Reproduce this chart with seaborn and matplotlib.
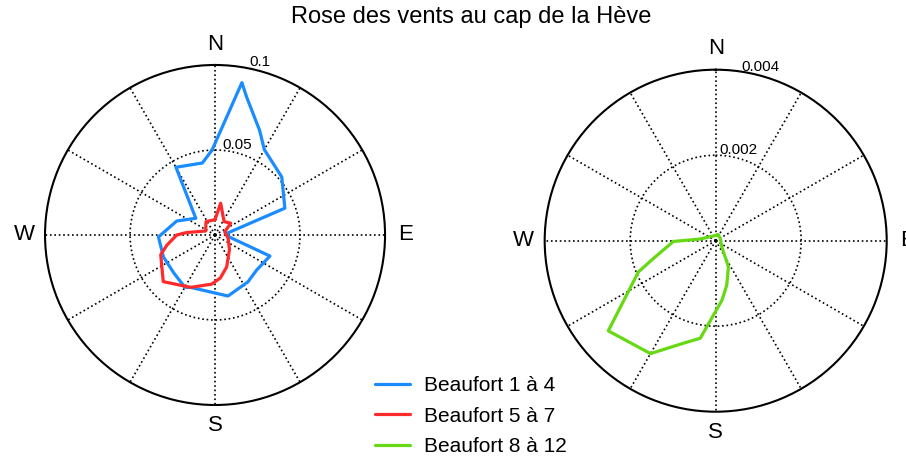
import numpy as np
import pandas as pd
import matplotlib
matplotlib.use("Agg")
from matplotlib import pyplot as plt
import seaborn as sns

sns.set_style("white", {"text.color": "black", "xtick.color": "black", "ytick.color": "black"})
plt.rcParams['font.family'] = ['Liberation Sans', 'DejaVu Sans']

# wind rose vertices (direction in degrees from north, clockwise ; frequency)
dir_b14 = [358, 10, 13, 23, 30, 49, 69, 82, 97, 111, 130, 145, 168, 205, 210, 227, 247, 268, 290, 311, 330, 350]
val_b14 = [0.050, 0.091, 0.083, 0.067, 0.058, 0.052, 0.044, 0.007, 0.008, 0.0346, 0.032, 0.0337,
           0.0367, 0.034, 0.0355, 0.033, 0.033, 0.0333, 0.024, 0.015, 0.046, 0.043]

dir_b57 = [0, 10, 34, 53, 72, 105, 135, 160, 173, 184, 205, 228, 250, 258, 270, 275, 293, 326]
val_b57 = [0.009, 0.019, 0.0095, 0.0115, 0.006, 0.008, 0.012, 0.020, 0.0255, 0.029, 0.034,
           0.041, 0.034, 0.029, 0.0225, 0.0167, 0.006, 0.0095]

dir_b812 = [20, 60, 120, 135, 154, 166, 174, 189, 198, 210, 230, 248, 254, 269, 276, 350]
val_b812 = [0.00015, 0.00012, 0.00015, 0.0002, 0.00068, 0.00107, 0.0014, 0.00231, 0.00253,
            0.00305, 0.00328, 0.00195, 0.00152, 0.00099, 0.00037, 0.00012]

labels = ["Beaufort 1 à 4", "Beaufort 5 à 7", "Beaufort 8 à 12"]
colors = ["#1a8cff", "#ff2a2a", "#66d914"]

def rose_df(dirs, vals):
    # close the polygon
    d = np.deg2rad(np.append(dirs, dirs[0]))
    v = np.append(vals, vals[0])
    return pd.DataFrame({"theta": d, "freq": v})

def setup(ax, rmax, rlab):
    ax.set_theta_zero_location('N')
    ax.set_theta_direction(-1)
    ax.set_ylim(0, rmax)
    ax.set_yticks([rmax / 2])
    ax.set_yticklabels([])
    ax.set_thetagrids(np.arange(0, 360, 30),
                      ['N', '', '', 'E', '', '', 'S', '', '', 'W', '', ''])
    ax.tick_params(axis='x', pad=4.5, labelsize=16, labelcolor='black')
    ax.grid(True, linestyle=':', color='k', linewidth=1.2)
    ax.spines['polar'].set_linewidth(1.5)
    ax.spines['polar'].set_color('k')
    ax.set_xlabel("")
    ax.set_ylabel("")
    for r, txt in zip([rmax / 2, rmax], rlab):
        ax.text(np.deg2rad(15), r * 1.01, txt, ha='center', va='bottom', fontsize=11, color='black')

fig = plt.figure(figsize=(9.06, 4.57), dpi=100)
ax1 = fig.add_axes([0.0497, 0.1138, 0.3753, 0.744], projection='polar')
ax2 = fig.add_axes([0.6012, 0.0991, 0.3775, 0.7484], projection='polar')

kw = dict(x="theta", y="freq", sort=False, estimator=None, linewidth=2.3, legend=False)
sns.lineplot(data=rose_df(dir_b14, val_b14), color=colors[0], ax=ax1, label=labels[0], **kw)
sns.lineplot(data=rose_df(dir_b57, val_b57), color=colors[1], ax=ax1, label=labels[1], **kw)
sns.lineplot(data=rose_df(dir_b812, val_b812), color=colors[2], ax=ax2, label=labels[2], **kw)

setup(ax1, 0.1, ["0.05", "0.1"])
setup(ax2, 0.004, ["0.002", "0.004"])

handles = ax1.get_lines()[:2] + ax2.get_lines()[:1]
fig.legend(handles, labels, loc='upper left', bbox_to_anchor=(0.405, 0.195),
           frameon=False, fontsize=15, handlelength=1.65, labelspacing=0.55,
           handletextpad=0.7, borderaxespad=0, labelcolor='black')

fig.text(0.52, 0.963, "Rose des vents au cap de la Hève", ha='center', va='center',
         fontsize=17, color='black')

fig.savefig("out.png", dpi=100, facecolor='white')
